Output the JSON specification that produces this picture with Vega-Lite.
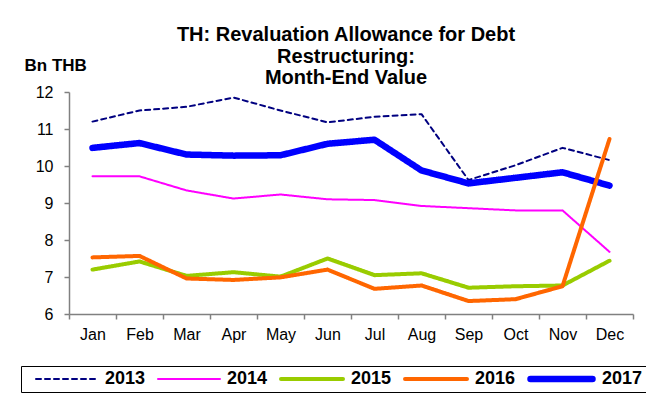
{
  "$schema": "https://vega.github.io/schema/vega-lite/v6.json",
  "width": 564,
  "height": 222,
  "autosize": "none",
  "padding": {"left": 69, "top": 92, "right": 13, "bottom": 89},
  "background": "white",
  "title": {
    "text": ["TH: Revaluation Allowance for Debt", "Restructuring:", "Month-End Value"],
    "frame": "group",
    "anchor": "middle",
    "font": "Liberation Sans",
    "fontSize": 20,
    "fontWeight": "bold",
    "color": "black",
    "lineHeight": 21.5,
    "dx": -5,
    "dy": 40,
    "offset": 8
  },
  "data": {
    "values": [
      {"month": "Jan", "year": "2013", "value": 11.2},
      {"month": "Feb", "year": "2013", "value": 11.5},
      {"month": "Mar", "year": "2013", "value": 11.6},
      {"month": "Apr", "year": "2013", "value": 11.85},
      {"month": "May", "year": "2013", "value": 11.5},
      {"month": "Jun", "year": "2013", "value": 11.18},
      {"month": "Jul", "year": "2013", "value": 11.33},
      {"month": "Aug", "year": "2013", "value": 11.4},
      {"month": "Sep", "year": "2013", "value": 9.62},
      {"month": "Oct", "year": "2013", "value": 10.02},
      {"month": "Nov", "year": "2013", "value": 10.49},
      {"month": "Dec", "year": "2013", "value": 10.16},
      {"month": "Jan", "year": "2014", "value": 9.72},
      {"month": "Feb", "year": "2014", "value": 9.72},
      {"month": "Mar", "year": "2014", "value": 9.34},
      {"month": "Apr", "year": "2014", "value": 9.12},
      {"month": "May", "year": "2014", "value": 9.23},
      {"month": "Jun", "year": "2014", "value": 9.1},
      {"month": "Jul", "year": "2014", "value": 9.08},
      {"month": "Aug", "year": "2014", "value": 8.92},
      {"month": "Sep", "year": "2014", "value": 8.86},
      {"month": "Oct", "year": "2014", "value": 8.8},
      {"month": "Nov", "year": "2014", "value": 8.8},
      {"month": "Dec", "year": "2014", "value": 7.68},
      {"month": "Jan", "year": "2015", "value": 7.2},
      {"month": "Feb", "year": "2015", "value": 7.42},
      {"month": "Mar", "year": "2015", "value": 7.03},
      {"month": "Apr", "year": "2015", "value": 7.13},
      {"month": "May", "year": "2015", "value": 7.01},
      {"month": "Jun", "year": "2015", "value": 7.5},
      {"month": "Jul", "year": "2015", "value": 7.05},
      {"month": "Aug", "year": "2015", "value": 7.1},
      {"month": "Sep", "year": "2015", "value": 6.71},
      {"month": "Oct", "year": "2015", "value": 6.75},
      {"month": "Nov", "year": "2015", "value": 6.77},
      {"month": "Dec", "year": "2015", "value": 7.44},
      {"month": "Jan", "year": "2017", "value": 10.49},
      {"month": "Feb", "year": "2017", "value": 10.62},
      {"month": "Mar", "year": "2017", "value": 10.31},
      {"month": "Apr", "year": "2017", "value": 10.28},
      {"month": "May", "year": "2017", "value": 10.29},
      {"month": "Jun", "year": "2017", "value": 10.6},
      {"month": "Jul", "year": "2017", "value": 10.71},
      {"month": "Aug", "year": "2017", "value": 9.88},
      {"month": "Sep", "year": "2017", "value": 9.53},
      {"month": "Oct", "year": "2017", "value": 9.68},
      {"month": "Nov", "year": "2017", "value": 9.83},
      {"month": "Dec", "year": "2017", "value": 9.47},
      {"month": "Jan", "year": "2016", "value": 7.53},
      {"month": "Feb", "year": "2016", "value": 7.57},
      {"month": "Mar", "year": "2016", "value": 6.96},
      {"month": "Apr", "year": "2016", "value": 6.92},
      {"month": "May", "year": "2016", "value": 6.99},
      {"month": "Jun", "year": "2016", "value": 7.2},
      {"month": "Jul", "year": "2016", "value": 6.68},
      {"month": "Aug", "year": "2016", "value": 6.77},
      {"month": "Sep", "year": "2016", "value": 6.35},
      {"month": "Oct", "year": "2016", "value": 6.4},
      {"month": "Nov", "year": "2016", "value": 6.75},
      {"month": "Dec", "year": "2016", "value": 10.73}
    ]
  },
  "mark": {"type": "line", "strokeCap": "round", "strokeJoin": "round"},
  "encoding": {
    "x": {
      "field": "month",
      "type": "ordinal",
      "sort": ["Jan", "Feb", "Mar", "Apr", "May", "Jun", "Jul", "Aug", "Sep", "Oct", "Nov", "Dec"],
      "scale": {"type": "band", "paddingInner": 0, "paddingOuter": 0},
      "bandPosition": 0.5,
      "axis": {
        "title": null,
        "labelAngle": 0,
        "tickBand": "extent",
        "tickSize": 5,
        "labelPadding": 7,
        "grid": false
      }
    },
    "y": {
      "field": "value",
      "type": "quantitative",
      "scale": {"domain": [6, 12], "nice": false, "zero": false},
      "axis": {
        "title": "Bn THB",
        "values": [6, 7, 8, 9, 10, 11, 12],
        "titleAngle": 0,
        "titleX": -45,
        "titleY": -27,
        "titleAlign": "left",
        "titleBaseline": "middle",
        "titleFont": "Liberation Sans",
        "titleFontSize": 17,
        "titleFontWeight": "bold",
        "titleColor": "black",
        "tickSize": 5,
        "labelPadding": 11,
        "grid": false
      }
    },
    "color": {
      "field": "year",
      "type": "nominal",
      "scale": {"domain": ["2013", "2014", "2015", "2016", "2017"], "range": ["#000080", "#FF00FF", "#99CC00", "#FF6600", "#0000FF"]},
      "legend": {
        "title": null,
        "orient": "none",
        "legendX": -48,
        "legendY": 274,
        "direction": "horizontal",
        "encode": {"symbols": {"update": {"strokeCap": {"value": "round"}}}}
      }
    },
    "strokeWidth": {
      "field": "year",
      "type": "nominal",
      "scale": {"type": "ordinal", "domain": ["2013", "2014", "2015", "2016", "2017"], "range": [2, 2, 4, 4, 6.5]},
      "legend": {
        "title": null,
        "orient": "none",
        "legendX": -48,
        "legendY": 274,
        "direction": "horizontal"
      }
    },
    "strokeDash": {
      "field": "year",
      "type": "nominal",
      "scale": {"domain": ["2013", "2014", "2015", "2016", "2017"], "range": [[5, 4], [1, 0], [1, 0], [1, 0], [1, 0]]},
      "legend": {
        "title": null,
        "orient": "none",
        "legendX": -48,
        "legendY": 274,
        "direction": "horizontal"
      }
    }
  },
  "config": {
    "view": {"stroke": null},
    "axis": {
      "domainColor": "#808080",
      "tickColor": "#808080",
      "domainWidth": 1.5,
      "tickWidth": 1.5,
      "labelFont": "Liberation Sans",
      "labelFontSize": 16,
      "labelColor": "black"
    },
    "legend": {
      "padding": 4,
      "strokeColor": "#000000",
      "fillColor": "#ffffff",
      "symbolType": "stroke",
      "symbolSize": 3844,
      "clipHeight": 18,
      "labelFont": "Liberation Sans",
      "labelFontSize": 18,
      "labelFontWeight": "bold",
      "labelColor": "black",
      "labelOffset": 6,
      "columnPadding": 1,
      "symbolOffset": 10
    }
  }
}
